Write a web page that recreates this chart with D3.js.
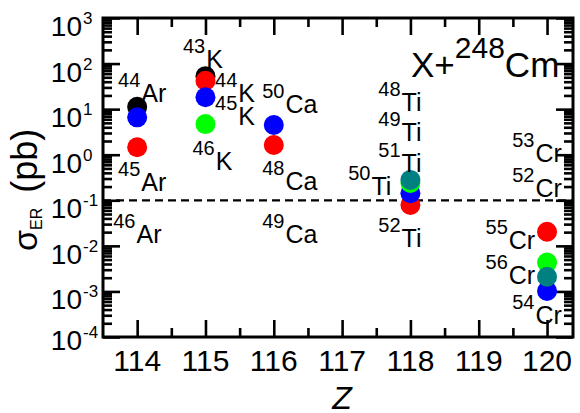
<!DOCTYPE html>
<html>
<head>
<meta charset="utf-8">
<script src="https://cdn.jsdelivr.net/npm/d3@7"></script>
<style>
  html, body { margin: 0; padding: 0; background: #fff; }
  text { font-family: "Liberation Sans", Arial, sans-serif; fill: #000; }
</style>
</head>
<body>
<svg id="chart" width="580" height="413"></svg>
<script>
// Evaporation-residue cross sections sigma_ER (pb) for X + 248Cm, by compound-nucleus Z

// Measured / calculated points, one array pair per marker colour
const blackZ = [114, 115];
const blackSigma = [11.3, 53];

const redZ = [114, 115, 116, 118, 120];
const redSigma = [1.46, 42, 1.63, 0.079, 0.0204];

const blueZ = [114, 115, 116, 118, 120];
const blueSigma = [6.6, 18.2, 4.5, 0.143, 0.00102];

const greenZ = [115, 118, 120];
const greenSigma = [4.7, 0.24, 0.0043];

const tealZ = [118, 120];
const tealSigma = [0.28, 0.0021];

// Axis ticks
const zTicks = [114, 115, 116, 117, 118, 119, 120];
const zMinorTicks = [114.5, 115.5, 116.5, 117.5, 118.5, 119.5];
const decadeExponents = [-4, -3, -2, -1, 0, 1, 2, 3];

// Projectile labels: mass number, element, anchor (Z, sigma) of the element's baseline
const labelMass   = ["44", "45", "46", "43", "44", "45", "46", "50", "48", "49",
                     "48", "49", "51", "50", "52", "53", "52", "55", "56", "54"];
const labelSymbol = ["Ar", "Ar", "Ar", "K", "K", "K", "K", "Ca", "Ca", "Ca",
                     "Ti", "Ti", "Ti", "Ti", "Ti", "Cr", "Cr", "Cr", "Cr", "Cr"];
const labelZ      = [113.72, 113.72, 113.65, 114.67, 115.14, 115.14, 114.81, 115.83, 115.83, 115.83,
                     117.53, 117.53, 117.53, 117.09, 117.53, 119.49, 119.49, 119.10, 119.10, 119.49];
const labelSigma  = [14.4, 0.16, 0.0116, 80, 14.4, 4.5, 0.46, 8.2, 0.168, 0.0116,
                     9.1, 2.0, 0.42, 0.13, 0.0094, 0.69, 0.118, 0.0085, 0.00146, 0.000193];

const series = [
  { z: blackZ, s: blackSigma, color: "#000000" },
  { z: redZ,   s: redSigma,   color: "#ff0000" },
  { z: blueZ,  s: blueSigma,  color: "#0000ff" },
  { z: greenZ, s: greenSigma, color: "#00ff00" },
  { z: tealZ,  s: tealSigma,  color: "#008080" }
];

const svg = d3.select("#chart");
const plotLeft = 103, plotRight = 573, plotTop = 18, plotBottom = 337;

const x = d3.scaleLinear().domain([113.5, 120.38]).range([plotLeft, plotRight]);
const y = d3.scaleLog().domain([1e-4, 1e3]).range([plotBottom, plotTop]);

const yMinor = [];
decadeExponents.slice(0, -1).forEach(e => {
  for (let k = 2; k <= 9; k++) yMinor.push(k * Math.pow(10, e));
});
const yMajor = decadeExponents.map(e => Math.pow(10, e));

const majorLen = 17, minorLen = 9;

function styleAxis(g) {
  g.select(".domain").remove();
  g.selectAll(".tick line").attr("stroke", "#000").attr("stroke-width", 2.6);
  g.selectAll(".tick text").remove();
}

// Inward ticks on all four sides
[[zTicks, majorLen], [zMinorTicks, minorLen]].forEach(([vals, len]) => {
  svg.append("g").attr("transform", `translate(0,${plotBottom})`)
    .call(d3.axisBottom(x).tickValues(vals).tickSizeInner(-len).tickSizeOuter(0)).call(styleAxis);
  svg.append("g").attr("transform", `translate(0,${plotTop})`)
    .call(d3.axisTop(x).tickValues(vals).tickSizeInner(-len).tickSizeOuter(0)).call(styleAxis);
});
[[yMajor, majorLen], [yMinor, minorLen]].forEach(([vals, len]) => {
  svg.append("g").attr("transform", `translate(${plotLeft},0)`)
    .call(d3.axisLeft(y).tickValues(vals).tickSizeInner(-len).tickSizeOuter(0)).call(styleAxis);
  svg.append("g").attr("transform", `translate(${plotRight},0)`)
    .call(d3.axisRight(y).tickValues(vals).tickSizeInner(-len).tickSizeOuter(0)).call(styleAxis);
});

// Frame
svg.append("rect")
  .attr("x", plotLeft).attr("y", plotTop)
  .attr("width", plotRight - plotLeft).attr("height", plotBottom - plotTop)
  .attr("fill", "none").attr("stroke", "#000").attr("stroke-width", 3);

// X tick labels
svg.append("g").selectAll("text").data(zTicks).join("text")
  .attr("x", d => x(d)).attr("y", 371)
  .attr("text-anchor", "middle")
  .attr("font-size", 30)
  .text(d => d);

// Y tick labels: 10 with superscript exponent
const yLab = svg.append("g");
decadeExponents.forEach(e => {
  const ty = y(Math.pow(10, e)) + (e === -4 ? -5 : 0);
  yLab.append("text").attr("x", 82).attr("y", ty + 18)
    .attr("text-anchor", "end").attr("font-size", 28).text("10");
  yLab.append("text").attr("x", 83).attr("y", ty + 6)
    .attr("text-anchor", "start").attr("font-size", 17).text(String(e));
});

// Axis titles
svg.append("text")
  .attr("x", x(117)).attr("y", 409)
  .attr("text-anchor", "middle")
  .attr("font-size", 32).attr("font-style", "italic")
  .text("Z");

const yt = svg.append("text")
  .attr("transform", "translate(37,251) rotate(-90)")
  .attr("text-anchor", "start");
yt.append("tspan").attr("font-size", 34).text("σ");
yt.append("tspan").attr("font-size", 16).attr("dy", 5).text("ER");
yt.append("tspan").attr("font-size", 36).attr("dy", -5).attr("dx", 5).text(" (pb)");

// Dashed reference line at 0.1 pb
svg.append("line")
  .attr("x1", plotLeft).attr("x2", plotRight)
  .attr("y1", y(0.1)).attr("y2", y(0.1))
  .attr("stroke", "#000").attr("stroke-width", 2.2)
  .attr("stroke-dasharray", "8,5");

// Data points
series.forEach(sr => {
  svg.append("g").selectAll("circle").data(sr.z.map((z, i) => [z, sr.s[i]])).join("circle")
    .attr("cx", d => x(d[0])).attr("cy", d => y(d[1]))
    .attr("r", 10).attr("fill", sr.color);
});

// Projectile labels
const lab = svg.append("g");
labelMass.forEach((m, i) => {
  const t = lab.append("text")
    .attr("x", x(labelZ[i])).attr("y", y(labelSigma[i]));
  t.append("tspan").attr("font-size", 20).attr("dy", -15).text(m);
  t.append("tspan").attr("font-size", 25).attr("dy", 15).attr("dx", 1).text(labelSymbol[i]);
});

// Reaction title
const title = svg.append("text").attr("x", 411).attr("y", 77);
title.append("tspan").attr("font-size", 35).text("X+");
title.append("tspan").attr("font-size", 30).attr("dy", -19).text("248");
title.append("tspan").attr("font-size", 35).attr("dy", 19).text("Cm");
</script>
</body>
</html>
